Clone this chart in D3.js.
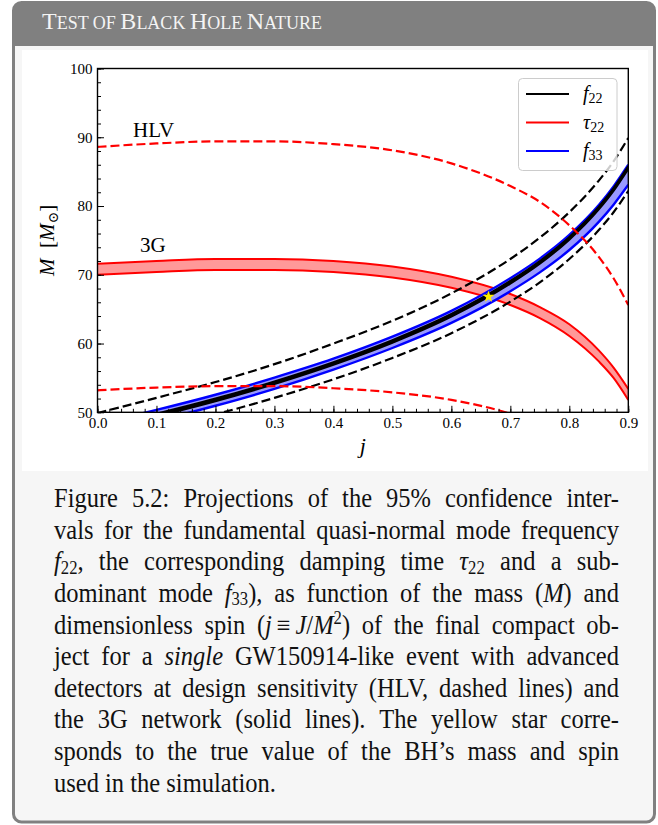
<!DOCTYPE html>
<html><head><meta charset="utf-8">
<script src="https://cdn.jsdelivr.net/npm/d3@7"></script>
<style>body{margin:0;background:#fff}svg{display:block}</style>
</head><body><svg id="c" width="658" height="825"></svg>
<script>
// ---------------- data ----------------
const jGrid       = [0, 0.1, 0.2, 0.3, 0.4, 0.5, 0.6, 0.7, 0.75, 0.8, 0.85, 0.875, 0.9];
// damping time tau22
const tau3GUpper  = [71.6, 72.0, 72.3, 72.3, 72.0, 71.2, 69.7, 67.2, 65.3, 62.8, 59.0, 56.5, 53.4];
const tau3GLower  = [70.0, 70.4, 70.7, 70.7, 70.4, 69.6, 68.1, 65.6, 63.7, 61.1, 57.4, 55.0, 51.8];
const tauHLVUpper = [88.6, 89.1, 89.4, 89.4, 89.0, 88.1, 86.2, 82.9, 80.6, 77.2, 72.6, 69.5, 65.6];
const tauHLVLower = [53.2, 53.6, 53.8, 53.8, 53.5, 52.9, 51.8, 49.8, 48.3, 46.4, 43.6, 41.7, 39.4];
// frequency f22
const f22_3GUpper = [47.8, 49.8, 52.0, 54.5, 57.3, 60.5, 64.3, 69.1, 72.0, 75.5, 79.9, 82.6, 85.8];
const f22_3GLower = [47.4, 49.4, 51.6, 54.1, 56.9, 60.1, 63.9, 68.7, 71.6, 75.1, 79.5, 82.2, 85.4];
const f22HLVUpper = [49.9, 52.1, 54.4, 57.0, 60.0, 63.3, 67.3, 72.3, 75.4, 79.1, 83.7, 86.5, 89.9];
const f22HLVLower = [45.7, 47.6, 49.7, 52.1, 54.8, 57.9, 61.5, 66.1, 68.9, 72.3, 76.5, 79.1, 82.2];
// frequency f33
const f33_3GUpper = [48.35, 50.35, 52.55, 55.05, 57.8, 61.0, 64.75, 69.5, 72.35, 75.8, 80.15, 82.85, 86.0];
const f33_3GLower = [46.75, 48.75, 50.95, 53.4, 56.2, 59.35, 63.0, 67.6, 70.35, 73.6, 77.7, 80.2, 83.1];
// true value
const starJ = 0.663, starM = 66.8;
// ticks
const xMajor = [0, 0.1, 0.2, 0.3, 0.4, 0.5, 0.6, 0.7, 0.8, 0.9];
const yMajor = [50, 60, 70, 80, 90, 100];
const xMinor = d3.range(0, 0.9001, 0.02);
const yMinor = d3.range(50, 100.01, 2);
const legendItems = [["f","22","#000000"],["τ","22","#ff0000"],["f","33","#0000ff"]];

// ---------------- page frame ----------------
const serif = "'Liberation Serif','DejaVu Serif',serif";
const svg = d3.select("#c").style("font-family", serif);
const defs = svg.append("defs");
defs.append("clipPath").attr("id","box").append("rect")
  .attr("x",13.5).attr("y",2.5).attr("width",641).attr("height",819.5).attr("rx",8);
svg.append("rect").attr("x",13.5).attr("y",2.5).attr("width",641).attr("height",819.5).attr("rx",8)
  .attr("fill","#f6f6f6");
svg.append("rect").attr("clip-path","url(#box)").attr("x",0).attr("y",0).attr("width",658).attr("height",46)
  .attr("fill","#808080");
svg.append("rect").attr("x",13.5).attr("y",2.5).attr("width",641).attr("height",819.5).attr("rx",8)
  .attr("fill","none").attr("stroke","#808080").attr("stroke-width",3);
svg.append("rect").attr("x",22).attr("y",50).attr("width",626).attr("height",421).attr("fill","#ffffff");

// title in small caps
const title = svg.append("text").attr("x",42).attr("y",29.3).attr("fill","#f4f4f4");
[["T",24],["EST OF ",18],["B",24],["LACK ",18],["H",24],["OLE ",18],["N",24],["ATURE",18]]
  .forEach(([t,s]) => title.append("tspan").attr("font-size",s).text(t));

// ---------------- chart ----------------
const x = d3.scaleLinear().domain([0,0.9]).range([97.5,628.3]);
const y = d3.scaleLinear().domain([50,100]).range([412.3,68.5]);
defs.append("clipPath").attr("id","plot").append("rect")
  .attr("x",x(0)).attr("y",y(100)).attr("width",x(0.9)-x(0)).attr("height",y(50)-y(100));
const g = svg.append("g").attr("clip-path","url(#plot)");

const line = d3.line().x((d,i)=>x(jGrid[i])).y(d=>y(d)).curve(d3.curveMonotoneX);
function band(up, lo, fill, stroke, sw){
  const area = d3.area().x((d,i)=>x(jGrid[i])).y0((d,i)=>y(lo[i])).y1(d=>y(d)).curve(d3.curveMonotoneX);
  g.append("path").datum(up).attr("d",area).attr("fill",fill);
  [up,lo].forEach(s => g.append("path").datum(s).attr("d",line)
    .attr("fill","none").attr("stroke",stroke).attr("stroke-width",sw));
}
function dashed(s, stroke){
  g.append("path").datum(s).attr("d",line).attr("fill","none").attr("stroke",stroke)
    .attr("stroke-width",2.2).attr("stroke-dasharray","9,4");
}
band(tau3GUpper, tau3GLower, "#ff9999", "#ff0000", 2);
band(f33_3GUpper, f33_3GLower, "#9999ff", "#0000ff", 2.4);
band(f22_3GUpper, f22_3GLower, "#000000", "#000000", 2);
dashed(f22HLVUpper, "#000000");
dashed(f22HLVLower, "#000000");
dashed(tauHLVUpper, "#ff0000");
dashed(tauHLVLower, "#ff0000");
svg.append("path").attr("d", d3.symbol(d3.symbolStar).size(45)())
  .attr("transform",`translate(${x(starJ)},${y(starM)})`).attr("fill","#ffee00");

// axes
function styleAxis(sel){ sel.select(".domain").remove();
  sel.selectAll("text").attr("font-family",serif).attr("font-size",15).attr("fill","#000");
  sel.selectAll("line").attr("stroke","#000").attr("stroke-width",1); }
svg.append("g").attr("transform",`translate(${x(0)},0)`)
  .call(d3.axisLeft(y).tickValues(yMinor).tickSize(-3.5).tickFormat("")).call(styleAxis);
svg.append("g").attr("transform",`translate(${x(0)},0)`)
  .call(d3.axisLeft(y).tickValues(yMajor).tickSize(-6.5).tickPadding(5).tickFormat(d3.format("d"))).call(styleAxis);
svg.append("g").attr("transform",`translate(0,${y(50)})`)
  .call(d3.axisBottom(x).tickValues(xMinor).tickSize(-3.5).tickFormat("")).call(styleAxis);
svg.append("g").attr("transform",`translate(0,${y(50)})`)
  .call(d3.axisBottom(x).tickValues(xMajor).tickSize(-6.5).tickPadding(5).tickFormat(d3.format(".1f"))).call(styleAxis);
svg.append("rect").attr("x",x(0)).attr("y",y(100)).attr("width",x(0.9)-x(0)).attr("height",y(50)-y(100))
  .attr("fill","none").attr("stroke","#000").attr("stroke-width",1.4);

// axis labels
svg.append("text").attr("x",(x(0)+x(0.9))/2).attr("y",453).attr("text-anchor","middle")
  .attr("font-size",22).attr("font-style","italic").text("j");
const yl = svg.append("text").attr("transform",`translate(54,${(y(50)+y(100))/2}) rotate(-90)`)
  .attr("text-anchor","middle").attr("font-size",21);
yl.append("tspan").attr("font-style","italic").text("M");
yl.append("tspan").text("\u2002[");
yl.append("tspan").attr("font-style","italic").text("M");
yl.append("tspan").attr("font-size",14).attr("dy",4).text("⊙");
yl.append("tspan").attr("dy",-4).text("]");

// region labels
svg.append("text").attr("x",133).attr("y",137).attr("font-size",21).text("HLV");
svg.append("text").attr("x",140).attr("y",252).attr("font-size",21).text("3G");

// legend
const lg = svg.append("g");
lg.append("rect").attr("x",518.5).attr("y",78.5).attr("width",98.5).attr("height",92).attr("rx",4)
  .attr("fill","#ffffff").attr("fill-opacity",0.8).attr("stroke","#cccccc").attr("stroke-width",1);
legendItems.forEach(([sym,sub,col],i)=>{
  const yy = 94 + i*28.5;
  lg.append("line").attr("x1",526).attr("x2",569).attr("y1",yy).attr("y2",yy)
    .attr("stroke",col).attr("stroke-width",2.2);
  const t = lg.append("text").attr("x",583).attr("y",yy+6).attr("font-size",20);
  t.append("tspan").attr("font-style","italic").text(sym);
  t.append("tspan").attr("font-size",14).attr("dy",3).text(sub);
});

// ---------------- caption (justified) ----------------
const captionLines = [
  "Figure 5.2: Projections of the 95% confidence inter-",
  "vals for the fundamental quasi-normal mode frequency",
  "{i:f}{sub:22}, the corresponding damping time {i:τ}{sub:22} and a sub-",
  "dominant mode {i:f}{sub:33}), as function of the mass ({i:M}) and",
  "dimensionless spin ({i:j}\u2009≡\u2009{i:J}/{i:M}{sup:2}) of the final compact ob-",
  "ject for a {i:single} GW150914-like event with advanced",
  "detectors at design sensitivity (HLV, dashed lines) and",
  "the 3G network (solid lines). The yellow star corre-",
  "sponds to the true value of the BH’s mass and spin",
  "used in the simulation."
];
const capFS = 26.5, capSX = 0.925, capL = 54, capR = 619, capY0 = 507.3, capDY = 31.6;
const capW = (capR - capL) / capSX;
const cap = svg.append("g").attr("transform",`translate(${capL},0) scale(${capSX},1)`)
  .attr("font-size",capFS).attr("fill","#111");
captionLines.forEach((ln, li) => {
  const yy = capY0 + li*capDY;
  const words = ln.split(" ");
  const nodes = words.map(w => {
    const t = cap.append("text").attr("y",yy);
    let shift = 0;
    const re = /\{(i|sub|sup):([^}]*)\}|([^{]+)/g; let m;
    while ((m = re.exec(w)) !== null) {
      const ts = t.append("tspan");
      let target = 0;
      if (m[3] !== undefined) { ts.text(m[3]); }
      else {
        ts.text(m[2]);
        if (m[1]==="i") ts.attr("font-style","italic");
        if (m[1]==="sub") { ts.attr("font-size",capFS*0.68); target = capFS*0.12; }
        if (m[1]==="sup") { ts.attr("font-size",capFS*0.68); target = -capFS*0.36; }
      }
      if (target !== shift) { ts.attr("dy", target - shift); shift = target; }
    }
    return t;
  });
  const widths = nodes.map(n => n.node().getComputedTextLength());
  const total = d3.sum(widths);
  const last = li === captionLines.length - 1;
  const gap = last ? capFS*0.25 : (capW - total) / (words.length - 1);
  let cx = 0;
  nodes.forEach((n,i) => { n.attr("x", cx); cx += widths[i] + gap; });
});
</script></body></html>
